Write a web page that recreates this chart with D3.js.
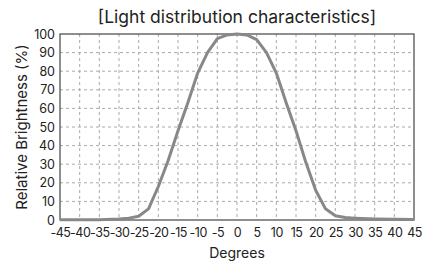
<!DOCTYPE html>
<html>
<head>
<meta charset="utf-8">
<script src="https://cdn.jsdelivr.net/npm/d3@7"></script>
<style>
  body { margin: 0; background: #fff; }
  svg { display: block; font-family: Inter, Roboto, "Noto Sans", sans-serif; }
</style>
</head>
<body>
<svg id="chart" width="433" height="265"></svg>
<script>
// angle (degrees) and relative brightness (%)
const degrees = [-45, -40, -35, -30, -27.5, -25, -22.5, -20, -17.5, -15, -12.5, -10, -7.5, -5, -2.5,
  0, 2.5, 5, 7.5, 10, 12.5, 15, 17.5, 20, 22.5, 25, 27.5, 30, 35, 40, 45];
const brightness = [0.1, 0.1, 0.2, 0.5, 1, 2, 6, 18, 32, 48, 63, 79, 90, 97.5, 99.5,
  100, 99.5, 97, 90, 79, 63, 48, 31, 16, 6, 2.3, 1.3, 1, 0.6, 0.4, 0.3];
const xTicks = d3.range(-45, 46, 5);
const yTicks = d3.range(0, 101, 10);

const svg = d3.select('#chart');
const margin = { top: 34, right: 19, bottom: 45, left: 60 };
const width = +svg.attr('width');
const height = +svg.attr('height');

const x = d3.scaleLinear()
  .domain([-45, 45])
  .range([margin.left, width - margin.right]);

const y = d3.scaleLinear()
  .domain([0, 100])
  .range([height - margin.bottom, margin.top]);

const data = degrees.map((d, i) => ({ deg: d, value: brightness[i] }));

// grid
svg.append('g')
  .selectAll('line')
  .data(xTicks.slice(1, -1))
  .enter().append('line')
  .attr('x1', d => x(d)).attr('x2', d => x(d))
  .attr('y1', y(100)).attr('y2', y(0))
  .attr('stroke', '#aaa')
  .attr('stroke-dasharray', '3,3');

svg.append('g')
  .selectAll('line')
  .data(yTicks.slice(1, -1))
  .enter().append('line')
  .attr('x1', x(-45)).attr('x2', x(45))
  .attr('y1', d => y(d)).attr('y2', d => y(d))
  .attr('stroke', '#aaa')
  .attr('stroke-dasharray', '3,3');

// frame
svg.append('rect')
  .attr('x', x(-45)).attr('y', y(100))
  .attr('width', x(45) - x(-45))
  .attr('height', y(0) - y(100))
  .attr('fill', 'none')
  .attr('stroke', '#444')
  .attr('stroke-width', 1.2);

// axes (labels only)
const xAxis = svg.append('g')
  .attr('transform', `translate(0,${y(0)})`)
  .call(d3.axisBottom(x).tickValues(xTicks).tickFormat(d => String(d)).tickSize(0).tickPadding(8));
xAxis.select('.domain').remove();
xAxis.selectAll('text')
  .attr('font-size', 12.5)
  .attr('font-family', 'Inter, Roboto, sans-serif')
  .attr('letter-spacing', -0.5)
  .attr('fill', '#222');

const yAxis = svg.append('g')
  .attr('transform', `translate(${x(-45)},0)`)
  .call(d3.axisLeft(y).tickValues(yTicks).tickSize(0).tickPadding(5));
yAxis.select('.domain').remove();
yAxis.selectAll('text')
  .attr('font-size', 12.5)
  .attr('font-family', 'Inter, Roboto, sans-serif')
  .attr('fill', '#222');

// curve
const line = d3.line()
  .x(d => x(d.deg))
  .y(d => y(d.value));

svg.append('path')
  .datum(data)
  .attr('fill', 'none')
  .attr('stroke', '#888')
  .attr('stroke-width', 3)
  .attr('stroke-linejoin', 'round')
  .attr('d', line);

// titles
svg.append('text')
  .attr('x', (x(-45) + x(45)) / 2)
  .attr('y', 23)
  .attr('text-anchor', 'middle')
  .attr('font-size', 17.5)
  .attr('fill', '#222')
  .text('[Light distribution characteristics]');

svg.append('text')
  .attr('x', (x(-45) + x(45)) / 2)
  .attr('y', 258)
  .attr('text-anchor', 'middle')
  .attr('font-size', 14)
  .attr('fill', '#222')
  .text('Degrees');

svg.append('text')
  .attr('transform', `translate(27,${(y(0) + y(100)) / 2}) rotate(-90)`)
  .attr('text-anchor', 'middle')
  .attr('font-size', 15)
  .attr('fill', '#222')
  .text('Relative Brightness (%)');
</script>
</body>
</html>
